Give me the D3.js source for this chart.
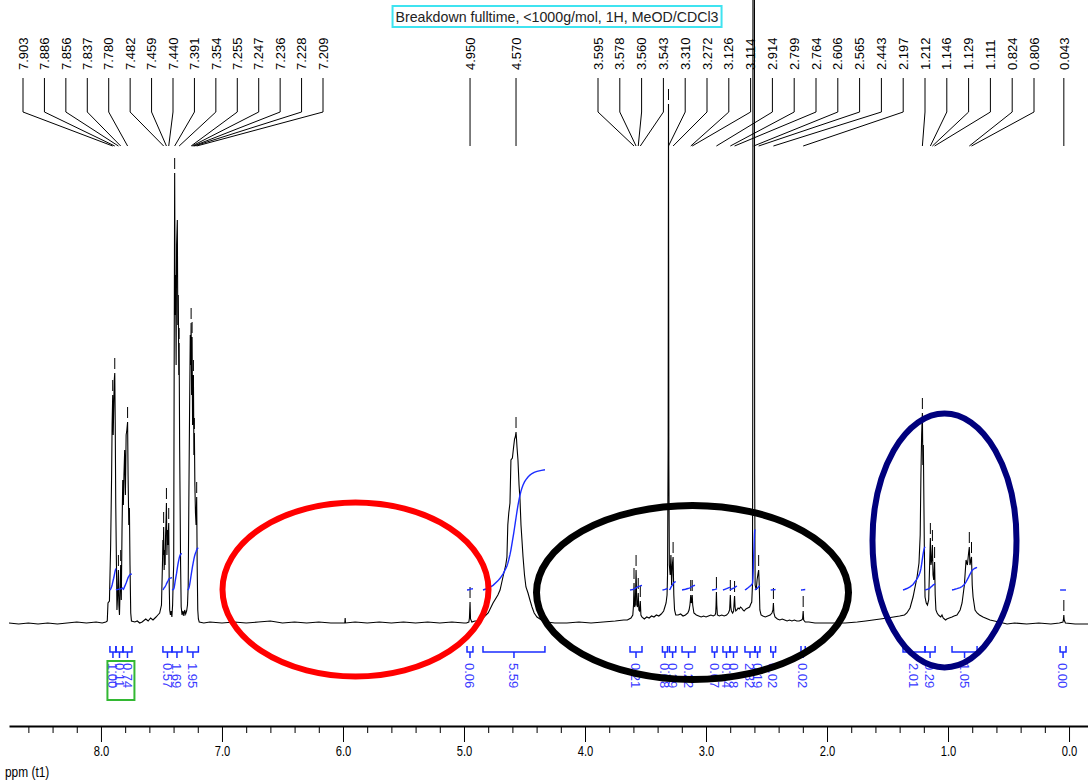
<!DOCTYPE html>
<html>
<head>
<meta charset="utf-8">
<script src="https://cdn.jsdelivr.net/npm/d3@7"></script>
<style>
  html, body { margin: 0; padding: 0; background: #fff; }
  svg { display: block; }
</style>
</head>
<body>
<svg id="chart" width="1088" height="782"></svg>
<script>
// ---------- data ----------
const titleText = "Breakdown fulltime, <1000g/mol, 1H, MeOD/CDCl3";
const axisTitle = "ppm (t1)";

// 1H trace: [chemical shift (ppm), intensity (arbitrary units)]
const spectrum = [
  [8.76,2],[8.68,1],[8.60,2],[8.52,1],[8.44,2],[8.36,1],[8.28,2],[8.20,3],[8.12,2],[8.04,3],[7.99,2],[7.96,3],
  [7.948,4],[7.942,22],[7.930,24],[7.920,80],[7.912,150],[7.908,200],[7.903,230],[7.899,190],[7.895,215],[7.890,245],
  [7.886,252],[7.882,200],[7.878,122],[7.872,60],[7.868,15],[7.862,30],[7.858,48],[7.856,55],[7.852,20],[7.847,10],
  [7.842,35],[7.837,60],[7.832,25],[7.826,95],[7.820,145],[7.815,120],[7.810,150],[7.804,175],[7.798,130],[7.792,190],
  [7.786,195],[7.780,203],[7.776,150],[7.770,100],[7.765,117],[7.760,60],[7.754,12],[7.748,4],
  [7.72,3],[7.70,4],[7.68,2],[7.66,3],[7.63,6],[7.61,4],[7.59,7],[7.57,5],[7.545,8],[7.53,10],[7.515,12],[7.50,20],
  [7.492,60],[7.488,85],[7.485,70],[7.482,98],[7.478,55],[7.474,75],[7.470,60],[7.466,90],[7.462,105],[7.459,122],
  [7.455,70],[7.451,95],[7.447,80],[7.444,90],[7.440,102],[7.436,40],[7.432,15],[7.426,10],[7.420,14],[7.414,8],
  [7.408,20],[7.403,45],[7.399,60],[7.395,260],[7.391,452],[7.387,310],[7.383,350],[7.379,260],[7.375,380],[7.369,405],
  [7.365,300],[7.361,330],[7.357,250],[7.354,282],[7.350,180],[7.346,122],[7.342,60],[7.337,18],[7.330,10],[7.322,14],
  [7.315,9],[7.308,15],[7.300,11],[7.292,14],[7.285,20],[7.279,40],[7.274,120],[7.268,210],[7.262,290],[7.258,260],
  [7.255,302],[7.251,230],[7.247,288],[7.243,200],[7.239,228],[7.236,250],[7.232,170],[7.228,192],[7.224,140],
  [7.219,112],[7.214,100],[7.209,128],[7.205,60],[7.200,15],[7.195,6],[7.188,3],
  [7.15,2],[7.10,3],[7.00,2],[6.90,3],[6.80,2],[6.70,3],[6.60,4],[6.50,2],[6.40,3],[6.30,2],[6.20,3],[6.10,2],
  [5.985,2],[5.982,7],[5.979,2],[5.90,3],[5.80,2],[5.70,3],[5.60,2],[5.50,3],[5.40,2],[5.30,3],[5.20,2],[5.10,3],[5.00,2],
  [4.98,2],[4.96,3],[4.955,7],[4.950,23],[4.946,6],[4.935,3],[4.91,4],[4.88,4],
  [4.86,5],[4.843,7],[4.80,12],[4.76,22],[4.72,30],[4.702,35],[4.678,48],[4.655,60],[4.645,68],[4.638,100],[4.630,112],
  [4.620,122],[4.612,165],[4.600,167],[4.590,178],[4.582,186],[4.576,188],[4.570,193],[4.566,186],[4.562,178],
  [4.554,165],[4.545,140],[4.537,125],[4.529,100],[4.521,85],[4.512,68],[4.500,50],[4.488,38],[4.471,32],[4.455,25],
  [4.438,18],[4.420,12],[4.397,8],[4.360,5],[4.314,3],[4.25,2],
  [4.15,2],[4.05,3],[3.95,2],[3.85,3],[3.75,4],[3.68,5],[3.65,5],[3.62,7],[3.605,10],[3.599,20],[3.595,42],[3.590,18],
  [3.584,20],[3.578,55],[3.572,20],[3.566,18],[3.560,32],[3.555,15],[3.549,14],[3.543,24],[3.538,10],[3.53,8],[3.51,6],
  [3.49,8],[3.47,7],[3.45,9],[3.43,8],[3.41,10],[3.39,9],[3.37,11],[3.35,14],[3.34,18],[3.33,22],[3.322,30],[3.318,50],
  [3.313,180],[3.310,521],[3.307,160],[3.303,60],[3.296,50],[3.290,70],[3.284,40],[3.278,60],[3.272,68],[3.266,30],
  [3.260,15],[3.25,10],[3.23,10],[3.21,11],[3.19,9],[3.17,10],[3.15,12],[3.140,15],[3.133,20],[3.129,25],[3.126,30],
  [3.122,22],[3.117,24],[3.114,30],[3.110,20],[3.100,12],[3.08,10],[3.06,9],[3.04,8],[3.02,9],[3.00,8],[2.98,9],[2.96,10],
  [2.94,9],[2.925,10],[2.920,12],[2.917,20],[2.914,33],[2.911,20],[2.906,10],[2.89,9],[2.87,10],[2.85,9],[2.83,10],
  [2.815,12],[2.805,15],[2.802,22],[2.799,30],[2.795,18],[2.790,14],[2.780,12],[2.772,14],[2.768,22],[2.764,29],
  [2.760,18],[2.754,14],[2.745,15],[2.735,17],[2.725,16],[2.715,18],[2.705,17],[2.695,15],[2.685,14],[2.670,16],
  [2.655,17],[2.640,18],[2.630,21],[2.622,23],[2.616,40],[2.614,200],[2.612,640],[2.609,650],[2.606,655],[2.603,650],
  [2.600,640],[2.598,150],[2.594,40],[2.585,35],[2.578,45],[2.572,50],[2.565,55],[2.560,40],[2.555,15],[2.545,10],
  [2.53,9],[2.51,8],[2.49,9],[2.47,10],[2.455,12],[2.447,15],[2.443,22],[2.439,12],[2.43,8],[2.41,6],[2.39,5],[2.37,6],
  [2.35,5],[2.33,4],[2.31,5],[2.29,4],[2.27,5],[2.25,4],[2.23,4],[2.21,5],[2.202,6],[2.197,14],[2.193,5],[2.18,3],
  [2.15,3],[2.10,2],[2.05,2],[1.95,2],[1.85,2],[1.75,3],[1.68,4],[1.62,5],[1.56,6],[1.50,7],[1.45,8],[1.40,9],[1.36,10],
  [1.34,12],[1.314,17],[1.289,28],[1.256,48],[1.240,62],[1.230,90],[1.224,150],[1.218,190],[1.212,212],[1.208,160],
  [1.204,180],[1.200,130],[1.196,80],[1.190,28],[1.180,22],[1.170,20],[1.160,25],[1.152,60],[1.146,87],[1.141,60],
  [1.135,65],[1.129,80],[1.124,50],[1.118,45],[1.111,63],[1.106,30],[1.100,15],[1.09,12],[1.08,10],[1.07,9],[1.06,8],
  [1.05,10],[1.04,7],[1.03,6],[1.02,5],[1.01,6],[0.99,7],[0.967,8],[0.95,9],[0.926,10],[0.90,15],[0.884,22],[0.865,40],
  [0.851,65],[0.840,60],[0.830,72],[0.824,78],[0.819,60],[0.815,62],[0.810,66],[0.806,68],[0.800,40],[0.793,28],
  [0.777,15],[0.760,12],[0.74,10],[0.711,8],[0.653,5],[0.58,3],[0.512,1],[0.45,2],[0.35,1],[0.25,2],[0.15,1],[0.08,2],
  [0.050,3],[0.046,6],[0.043,10],[0.040,5],[0.030,2],[-0.05,1],[-0.16,1]
];

// picked peaks (ppm)
const peakPpm = [
  7.903, 7.886, 7.856, 7.837, 7.780, 7.482, 7.459, 7.440, 7.391, 7.354, 7.255, 7.247, 7.236, 7.228, 7.209,
  4.950, 4.570,
  3.595, 3.578, 3.560, 3.543, 3.310, 3.272, 3.126, 3.114, 2.914, 2.799, 2.764, 2.606, 2.565, 2.443, 2.197,
  1.212, 1.146, 1.129, 1.111, 0.824, 0.806,
  0.043
];

// integral regions (ppm from / to) and their integrals
const integralFrom  = [7.926, 7.876, 7.818, 7.488, 7.413, 7.285, 4.975, 4.843, 3.628, 3.360, 3.302, 3.198,
                       2.950, 2.860, 2.802, 2.678, 2.595, 2.465, 2.215, 1.372, 1.190, 0.967, 0.074];
const integralTo    = [7.876, 7.818, 7.744, 7.413, 7.331, 7.195, 4.926, 4.331, 3.529, 3.318, 3.250, 3.091,
                       2.909, 2.802, 2.744, 2.595, 2.554, 2.425, 2.180, 1.190, 1.107, 0.760, 0.025];
const integralValue = [1.00, 0.11, 0.74, 0.57, 1.69, 1.95, 0.06, 5.59, 0.21, 0.08, 0.39, 0.22,
                       0.07, 0.14, 0.18, 2.82, 0.19, 0.02, 0.02, 2.01, 0.29, 1.05, 0.00];
const referenceIntegral = 0;   // index of the normalised integral (boxed)

const axisMajor = [8, 7, 6, 5, 4, 3, 2, 1, 0];
const axisMinor = [8.6, 8.4, 8.2, 7.8, 7.6, 7.4, 7.2, 6.8, 6.6, 6.4, 6.2, 5.8, 5.6, 5.4, 5.2,
                   4.8, 4.6, 4.4, 4.2, 3.8, 3.6, 3.4, 3.2, 2.8, 2.6, 2.4, 2.2, 1.8, 1.6, 1.4, 1.2,
                   0.8, 0.6, 0.4, 0.2];

// ---------- layout ----------
const baselineY = 625, axisY = 726;
const FONT = "'Liberation Sans', Arial, sans-serif";
const labelBottomY = 70, connTop = 78, connKnee = 112, connEnd = 146;
// peak-label slots: runs of labels spread evenly across a pixel span
const labelRuns = [
  { first: 0, last: 14, left: 23, right: 323 },
  { first: 17, last: 37, left: 598, right: 1034 }
];
const integralBase = 35;      // intensity level where integral curves start
const integralUnit = 21.5;    // intensity units per integral unit
const circles = [
  { cx: 355.5, cy: 589.5, rx: 133, ry: 87, color: "#ff0000", width: 6 },
  { cx: 692.5, cy: 592.5, rx: 156, ry: 87, color: "#000000", width: 7 },
  { cx: 944.5, cy: 540.5, rx: 72, ry: 127, color: "#00007d", width: 6 }
];
const BLUE = "#1a2cff", LABEL_BLUE = "#3a3aff";

// ---------- scales ----------
const x = d3.scaleLinear().domain([8.76, -0.16]).range([9, 1088.4]);
const y = d3.scaleLinear().domain([0, baselineY]).range([baselineY, 0]);

const svg = d3.select("#chart");

// ---------- helpers ----------
function valueAt(p) {
  for (let i = 1; i < spectrum.length; i++) {
    const a = spectrum[i - 1], b = spectrum[i];
    if (p <= a[0] && p >= b[0]) {
      const t = (a[0] - p) / (a[0] - b[0] || 1);
      return a[1] + t * (b[1] - a[1]);
    }
  }
  return 0;
}
function integralCurve(from, to) {
  const pts = [[from, valueAt(from)]]
    .concat(spectrum.filter(d => d[0] < from && d[0] > to))
    .concat([[to, valueAt(to)]]);
  const cum = [0];
  for (let i = 1; i < pts.length; i++) {
    cum.push(cum[i - 1] + (pts[i - 1][0] - pts[i][0]) * (pts[i - 1][1] + pts[i][1]) / 2);
  }
  const total = cum[cum.length - 1] || 1;
  return pts.map((p, i) => [p[0], cum[i] / total]);
}

// ---------- axis ----------
const axisG = svg.append("g").attr("transform", `translate(0,${axisY})`);
axisG.call(d3.axisBottom(x).tickValues(axisMajor).tickSize(16).tickSizeOuter(0)
  .tickPadding(4).tickFormat(d3.format(".1f")));
axisG.select(".domain").attr("stroke", "#000").attr("stroke-width", 2);
axisG.selectAll(".tick line").attr("stroke", "#000").attr("stroke-width", 1);
axisG.selectAll(".tick text")
  .attr("font-family", FONT).attr("font-size", 14).attr("fill", "#000")
  .attr("transform", "scale(0.8,1)");

const minorG = svg.append("g").attr("transform", `translate(0,${axisY})`);
minorG.call(d3.axisBottom(x).tickValues(axisMinor).tickSize(7).tickSizeOuter(0).tickFormat(""));
minorG.select(".domain").remove();
minorG.selectAll(".tick line").attr("stroke", "#000");

svg.append("text")
  .attr("transform", "translate(5,777) scale(0.85,1)")
  .attr("font-family", FONT).attr("font-size", 14).attr("fill", "#000")
  .text(axisTitle);

// ---------- spectrum trace ----------
const line = d3.line().x(d => x(d[0])).y(d => y(d[1]));
svg.append("path")
  .datum(spectrum)
  .attr("d", line)
  .attr("fill", "none").attr("stroke", "#000").attr("stroke-width", 1.1);

// peak-pick markers above each picked maximum
svg.append("g").selectAll("line")
  .data(peakPpm)
  .join("line")
  .attr("x1", d => x(d)).attr("x2", d => x(d))
  .attr("y1", d => y(valueAt(d)) - 15)
  .attr("y2", d => y(valueAt(d)) - 4)
  .attr("stroke", "#000").attr("stroke-width", 1);

// ---------- peak labels ----------
const labelX = peakPpm.map(p => x(p));
labelRuns.forEach(r => {
  const n = r.last - r.first;
  for (let i = r.first; i <= r.last; i++) {
    labelX[i] = r.left + (r.right - r.left) * (i - r.first) / n;
  }
});

const peakG = svg.append("g");
peakG.selectAll("path")
  .data(peakPpm)
  .join("path")
  .attr("d", (d, i) => `M${labelX[i]},${connTop}L${labelX[i]},${connKnee}L${x(d)},${connEnd}`)
  .attr("fill", "none").attr("stroke", "#000").attr("stroke-width", 1);
peakG.selectAll("text")
  .data(peakPpm)
  .join("text")
  .attr("transform", (d, i) => `translate(${labelX[i]},${labelBottomY}) rotate(-90)`)
  .attr("dy", "0.36em")
  .attr("font-family", FONT).attr("font-size", 13).attr("fill", "#000")
  .text(d => d.toFixed(3));

// ---------- integrals ----------
const intG = svg.append("g");
integralValue.forEach((v, i) => {
  const from = integralFrom[i], to = integralTo[i];
  const curve = integralCurve(from, to);
  intG.append("path")
    .datum(curve)
    .attr("d", d3.line().x(d => x(d[0])).y(d => y(integralBase + v * integralUnit * d[1])))
    .attr("fill", "none").attr("stroke", BLUE).attr("stroke-width", 1.4);

  const x1 = x(from), x2 = x(to), xm = (x1 + x2) / 2;
  intG.append("path")
    .attr("d", `M${x1},646L${x1},652L${x2},652L${x2},646M${xm},652L${xm},658`)
    .attr("fill", "none").attr("stroke", BLUE).attr("stroke-width", 1.5);
  intG.append("text")
    .attr("transform", `translate(${xm},663) rotate(90)`)
    .attr("dy", "0.36em")
    .attr("font-family", FONT).attr("font-size", 13).attr("fill", LABEL_BLUE)
    .text(v.toFixed(2));
});

// box around the reference integral label group
{
  const xm = (x(integralFrom[referenceIntegral]) + x(integralTo[referenceIntegral + 2])) / 2;
  svg.append("rect")
    .attr("x", xm - 13.5).attr("y", 661).attr("width", 27).attr("height", 39)
    .attr("fill", "none").attr("stroke", "#33b833").attr("stroke-width", 2);
}

// ---------- title ----------
const titleG = svg.append("g");
const tt = titleG.append("text")
  .attr("x", 557).attr("y", 21.5)
  .attr("text-anchor", "middle")
  .attr("font-family", FONT).attr("font-size", 14.2).attr("fill", "#222")
  .text(titleText);
const bb = tt.node().getBBox();
titleG.insert("rect", "text")
  .attr("x", bb.x - 3).attr("y", 6)
  .attr("width", bb.width + 6).attr("height", 21)
  .attr("fill", "#fff").attr("stroke", "#3fe3f0").attr("stroke-width", 2);

// ---------- highlighted regions ----------
svg.append("g").selectAll("ellipse")
  .data(circles)
  .join("ellipse")
  .attr("cx", d => d.cx).attr("cy", d => d.cy)
  .attr("rx", d => d.rx).attr("ry", d => d.ry)
  .attr("fill", "none")
  .attr("stroke", d => d.color)
  .attr("stroke-width", d => d.width);
</script>
</body>
</html>
